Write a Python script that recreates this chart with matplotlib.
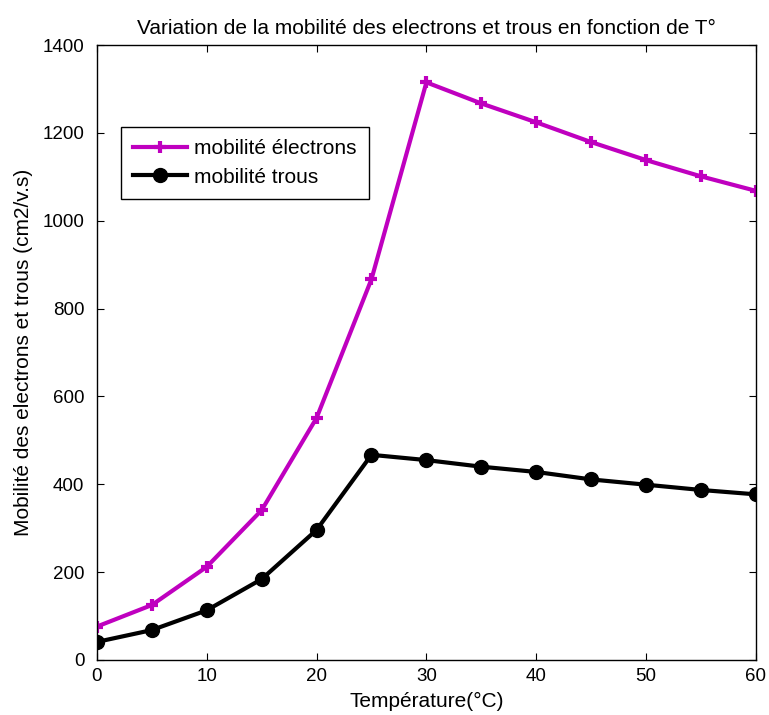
import matplotlib
matplotlib.use("Agg")
import matplotlib.pyplot as plt

temperature = [0, 5, 10, 15, 20, 25, 30, 35, 40, 45, 50, 55, 60]
mob_electrons = [76, 125, 212, 341, 551, 867, 1315, 1267, 1224, 1179, 1138, 1101, 1068]
mob_trous = [41, 68, 113, 184, 296, 467, 455, 440, 428, 411, 399, 387, 377]

plt.rcParams['font.family'] = ['Liberation Sans', 'DejaVu Sans']

fig = plt.figure(figsize=(7.69, 7.15), dpi=100)
ax = fig.add_axes([0.126, 0.077, 0.857, 0.860])

ax.plot(temperature, mob_electrons, color='#BF00BF', lw=3, marker='+', ms=9, mew=3,
        label='mobilité électrons')
ax.plot(temperature, mob_trous, color='black', lw=3, marker='o', ms=10,
        label='mobilité trous')

ax.set_xlim(0, 60)
ax.set_ylim(0, 1400)
ax.set_xticks(range(0, 61, 10))
ax.set_yticks(range(0, 1401, 200))
ax.tick_params(direction='in', top=True, right=True, labelsize=13.5, length=5)
ax.tick_params(axis='y', pad=9)
ax.tick_params(axis='x', pad=6)
for s in ax.spines.values():
    s.set_linewidth(1)

ax.set_title('Variation de la mobilité des electrons et trous en fonction de T°', fontsize=15, pad=8)
ax.set_xlabel('Température(°C)', fontsize=15, labelpad=5)
ax.set_ylabel('Mobilité des electrons et trous (cm2/v.s)', fontsize=15, labelpad=7)

leg = ax.legend(loc='upper left', bbox_to_anchor=(0.036, 0.867), fontsize=15,
                fancybox=False, edgecolor='black', framealpha=1, handlelength=2.6,
                handletextpad=0.3, borderpad=0.6, labelspacing=0.45, borderaxespad=0)
leg.get_frame().set_linewidth(1)

fig.savefig('out.png', dpi=100)
